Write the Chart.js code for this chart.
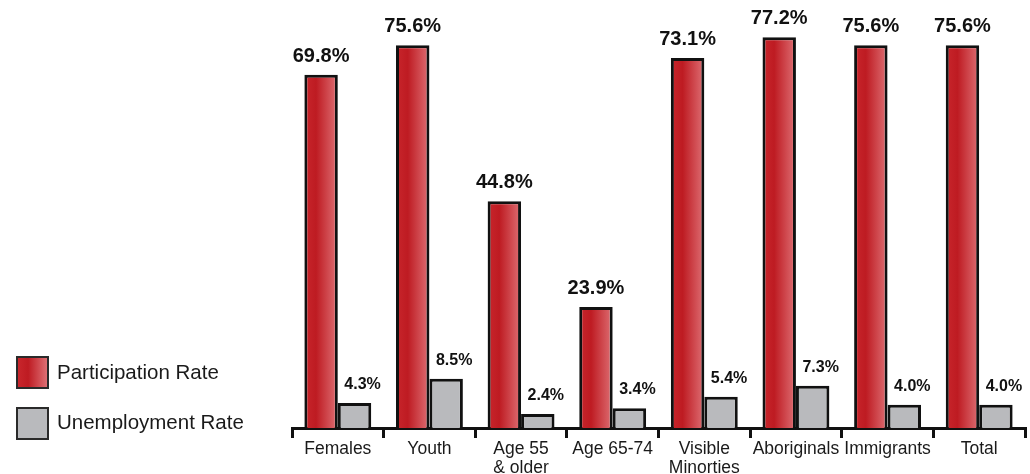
<!DOCTYPE html>
<html>
<head>
<meta charset="utf-8">
<script src="https://cdn.jsdelivr.net/npm/chart.js@4.4.1/dist/chart.umd.min.js"></script>
<style>
  html, body { margin: 0; padding: 0; background: #ffffff; }
  #wrap { position: relative; width: 1030px; height: 474px; overflow: hidden; }
  #c { position: absolute; left: 0; top: 0; }
  .sw { position: absolute; left: 16px; width: 33px; height: 33px; box-sizing: border-box; border: 2px solid #2a2a2a; }
  .lt { position: absolute; left: 57px; font-family: "Liberation Sans", Arial, sans-serif; font-size: 20.5px; line-height: 24px; color: #1a1a1a; white-space: nowrap; }
</style>
</head>
<body>
<div id="wrap">
  <canvas id="c" width="1030" height="474"></canvas>
  <div class="sw" style="top:356px;background:linear-gradient(to right,#c8262c 0%,#be1b22 35%,#de6f74 100%);"></div>
  <div class="lt" id="lg0" style="top:360px;"></div>
  <div class="sw" style="top:407px;background:#b9babd;"></div>
  <div class="lt" id="lg1" style="top:410px;"></div>
</div>
<script>
const categories = [
  "Females", ["Youth"], ["Age 55", "& older"], "Age 65-74",
  ["Visible", "Minorties"], "Aboriginals", "Immigrants", "Total"
];
const seriesNames = ["Participation Rate", "Unemployment Rate"];
const participation = [69.8, 75.6, 44.8, 23.9, 73.1, 77.2, 75.6, 75.6];
const unemployment = [4.3, 8.5, 2.4, 3.4, 5.4, 7.3, 4.0, 4.0];

document.getElementById('lg0').textContent = seriesNames[0];
document.getElementById('lg1').textContent = seriesNames[1];

const FONT = '"Liberation Sans", Arial, sans-serif';
const CAT_PCT = 0.73;

function redGradient(context) {
  const chart = context.chart;
  const xs = chart.scales && chart.scales.x;
  if (!chart.chartArea || !xs || context.dataIndex === undefined) return '#c41f26';
  const cw = xs.width / categories.length;
  const bw = cw * CAT_PCT / 2;
  const cx = xs.getPixelForValue(context.dataIndex) - bw / 2;
  const g = chart.ctx.createLinearGradient(cx - bw / 2, 0, cx + bw / 2, 0);
  g.addColorStop(0, '#c8262c');
  g.addColorStop(0.35, '#be1b22');
  g.addColorStop(1, '#de6f74');
  return g;
}

const labelPlugin = {
  id: 'valueLabels',
  afterDatasetsDraw(chart) {
    const ctx = chart.ctx;
    ctx.save();
    ctx.fillStyle = '#111111';
    ctx.textAlign = 'center';
    ctx.textBaseline = 'alphabetic';
    const m0 = chart.getDatasetMeta(0);
    ctx.font = 'bold 20px ' + FONT;
    m0.data.forEach((bar, i) => {
      ctx.fillText(participation[i].toFixed(1) + '%', bar.x, bar.y - 13);
    });
    const m1 = chart.getDatasetMeta(1);
    ctx.font = 'bold 16px ' + FONT;
    m1.data.forEach((bar, i) => {
      ctx.fillText(unemployment[i].toFixed(1) + '%', bar.x + 8, bar.y - 14);
    });
    ctx.restore();
  }
};

new Chart(document.getElementById('c'), {
  type: 'bar',
  data: {
    labels: categories,
    datasets: [
      {
        label: seriesNames[0],
        data: participation,
        backgroundColor: redGradient,
        borderColor: '#111111',
        borderWidth: 3,
        yAxisID: 'y'
      },
      {
        label: seriesNames[1],
        data: unemployment,
        backgroundColor: '#b9babd',
        borderColor: '#111111',
        borderWidth: 3,
        yAxisID: 'y2'
      }
    ]
  },
  options: {
    responsive: false,
    animation: false,
    devicePixelRatio: 1,
    layout: { padding: { left: 292, right: 5, top: 23, bottom: 0 } },
    datasets: { bar: { categoryPercentage: CAT_PCT, barPercentage: 1.0 } },
    plugins: {
      legend: { display: false },
      tooltip: { enabled: false }
    },
    scales: {
      x: {
        offset: true,
        grid: {
          offset: true,
          drawOnChartArea: false,
          drawTicks: true,
          tickLength: 10,
          tickWidth: 3,
          tickColor: '#111111',
          color: '#111111',
          lineWidth: 3
        },
        border: { display: true, color: '#111111', width: 3 },
        ticks: {
          color: '#1a1a1a',
          font: { family: FONT, size: 17.5, lineHeight: 1.09 },
          padding: 2,
          maxRotation: 0,
          autoSkip: false
        },
        afterFit(scale) { scale.height = 46; }
      },
      y: { display: false, min: 0, max: 80 },
      y2: { display: false, min: 0, max: 70 }
    }
  },
  plugins: [labelPlugin]
});
</script>
</body>
</html>
